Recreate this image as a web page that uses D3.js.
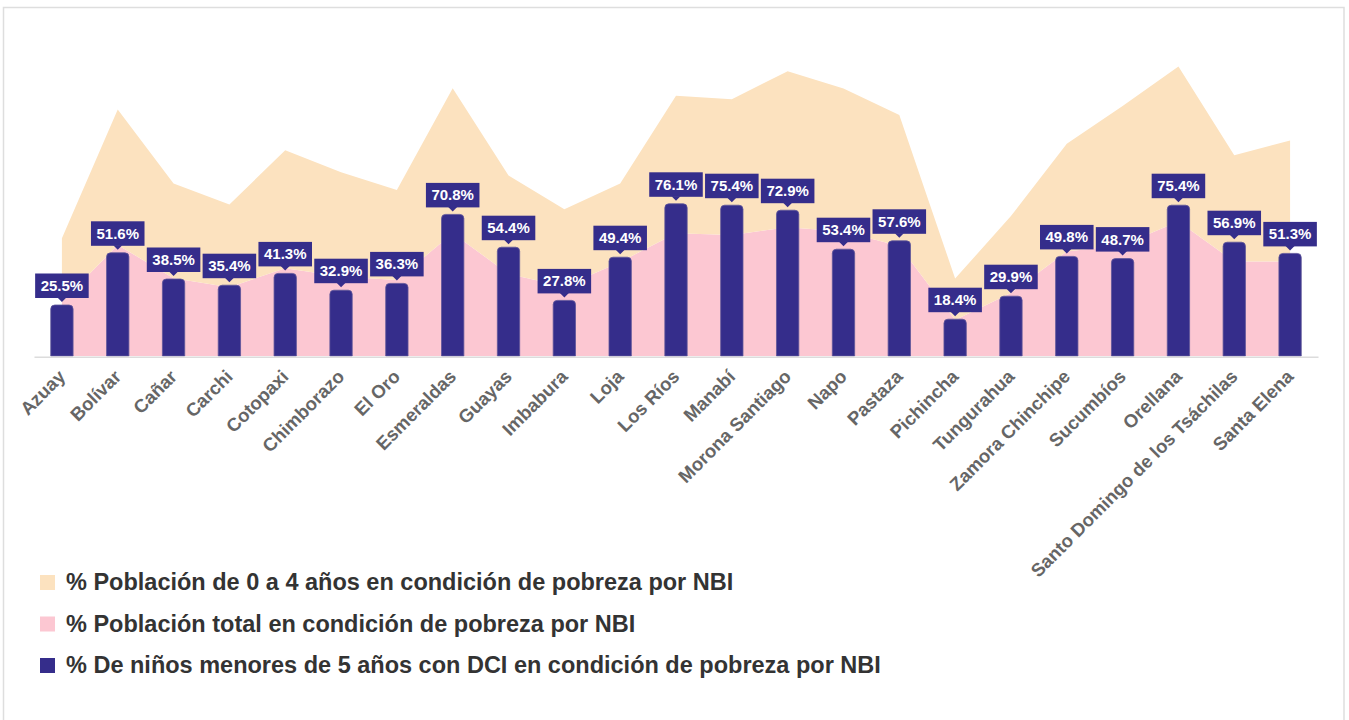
<!DOCTYPE html>
<html>
<head>
<meta charset="utf-8">
<script src="https://cdn.jsdelivr.net/npm/d3@7"></script>
<style>
  body { margin: 0; background: #fff; font-family: "Liberation Sans", Arial, Helvetica, sans-serif; }
</style>
</head>
<body>
<script>
const provincias = ["Azuay", "Bolívar", "Cañar", "Carchi", "Cotopaxi", "Chimborazo", "El Oro", "Esmeraldas",
  "Guayas", "Imbabura", "Loja", "Los Ríos", "Manabí", "Morona Santiago", "Napo", "Pastaza", "Pichincha",
  "Tungurahua", "Zamora Chinchipe", "Sucumbíos", "Orellana", "Santo Domingo de los Tsáchilas", "Santa Elena"];

// % de niños menores de 5 años con DCI en condición de pobreza por NBI (barras)
const dci = [25.5, 51.6, 38.5, 35.4, 41.3, 32.9, 36.3, 70.8, 54.4, 27.8, 49.4, 76.1, 75.4, 72.9, 53.4, 57.6,
  18.4, 29.9, 49.8, 48.7, 75.4, 56.9, 51.3];

// % población total en condición de pobreza por NBI (área rosa, capa de abajo)
const pobTotal = [27.0, 55.5, 38.9, 34.4, 43.9, 39.7, 38.0, 61.4, 41.0, 34.8, 47.0, 61.4, 60.5, 64.4, 62.2, 55.0,
  18.0, 31.5, 52.2, 55.5, 67.2, 47.2, 47.2];

// % población de 0 a 4 años en condición de pobreza por NBI (área naranja, apilada encima)
const pob04 = [31.9, 67.7, 47.3, 41.3, 59.0, 52.2, 45.0, 72.5, 49.2, 38.6, 39.2, 68.7, 67.9, 78.0, 71.5, 65.5,
  20.7, 38.5, 53.9, 69.5, 77.5, 53.2, 60.5];

const legendLabels = [
  "% Población de 0 a 4 años en condición de pobreza por NBI",
  "% Población total en condición de pobreza por NBI",
  "% De niños menores de 5 años con DCI en condición de pobreza por NBI"
];

const w = 1349;
const h = 720;
const colNaranja = "#fce2bf";
const colRosa = "#fcc7d2";
const colBarra = "#352d8b";

const svg = d3.select("body")
  .append("svg")
  .attr("width", w)
  .attr("height", h);

// marco
svg.append("rect")
  .attr("x", 3.5).attr("y", 7.5)
  .attr("width", 1340.5).attr("height", 740)
  .attr("fill", "none")
  .attr("stroke", "#dedede")
  .attr("stroke-width", 1.5);

const x = d3.scalePoint().domain(provincias).range([34, 1318]).padding(0.5);
const y = d3.scaleLinear().domain([0, 100]).range([356, 156]);

const rows = provincias.map((p, i) => ({ prov: p, total: pobTotal[i], ninos: pob04[i] }));
const series = d3.stack().keys(["total", "ninos"])(rows);

const area = d3.area()
  .x(d => x(d.data.prov))
  .y0(d => y(d[0]))
  .y1(d => y(d[1]));

svg.selectAll(".area")
  .data(series)
  .enter()
  .append("path")
  .attr("class", "area")
  .attr("d", area)
  .attr("fill", (d, i) => i === 0 ? colRosa : colNaranja);

// barras con esquinas superiores redondeadas
const bw = x.step() * 0.4;
const barPath = (v, p) => {
  const cx = x(p), top = y(v), bottom = y(0), r = 4;
  const path = d3.path();
  path.moveTo(cx - bw / 2, bottom);
  path.lineTo(cx - bw / 2, top + r);
  path.quadraticCurveTo(cx - bw / 2, top, cx - bw / 2 + r, top);
  path.lineTo(cx + bw / 2 - r, top);
  path.quadraticCurveTo(cx + bw / 2, top, cx + bw / 2, top + r);
  path.lineTo(cx + bw / 2, bottom);
  path.closePath();
  return path.toString();
};

svg.selectAll(".bar")
  .data(dci)
  .enter()
  .append("path")
  .attr("class", "bar")
  .attr("d", (d, i) => barPath(d, provincias[i]))
  .attr("fill", colBarra)
  .attr("stroke", "#5e5599")
  .attr("stroke-width", 0.8);

// eje x
const axis = svg.append("g")
  .attr("transform", `translate(0,${y(0) + 0.8})`)
  .call(d3.axisBottom(x).tickSize(0).tickSizeOuter(0));

axis.select(".domain").attr("stroke", "#dcdcdc").attr("stroke-width", 1.6);

axis.selectAll("text")
  .attr("x", 0).attr("y", 0).attr("dy", 0)
  .attr("transform", "translate(4,21) rotate(-45)")
  .attr("text-anchor", "end")
  .attr("fill", "#666")
  .style("font-family", "'Liberation Sans', Arial, sans-serif")
  .style("font-weight", "bold")
  .style("font-size", "18.5px");

// etiquetas de valor
const labels = svg.selectAll(".lbl")
  .data(dci)
  .enter()
  .append("g")
  .attr("class", "lbl")
  .attr("transform", (d, i) => `translate(${x(provincias[i])},${y(d)})`);

labels.append("path")
  .attr("d", "M-4.5,-7.5L4.5,-7.5L0,-3Z")
  .attr("fill", colBarra);

labels.append("text")
  .attr("y", -14)
  .attr("text-anchor", "middle")
  .attr("fill", "#fff")
  .style("font-weight", "bold")
  .style("font-size", "15px")
  .text(d => d.toFixed(1) + "%");

labels.each(function () {
  const g = d3.select(this);
  const tw = g.select("text").node().getComputedTextLength();
  g.insert("rect", "text")
    .attr("x", -tw / 2 - 5.5)
    .attr("y", -31.5)
    .attr("width", tw + 11)
    .attr("height", 24.5)
    .attr("fill", colBarra);
});

// leyenda
const legend = svg.selectAll(".legend")
  .data(legendLabels)
  .enter()
  .append("g")
  .attr("class", "legend")
  .attr("transform", (d, i) => `translate(40,${575 + i * 41.5})`);

legend.append("rect")
  .attr("width", 15).attr("height", 15)
  .attr("fill", (d, i) => [colNaranja, colRosa, colBarra][i]);

legend.append("text")
  .attr("x", 26).attr("y", 15)
  .attr("fill", "#333")
  .style("font-weight", "bold")
  .style("font-size", "23.5px")
  .text(d => d);
</script>
</body>
</html>
